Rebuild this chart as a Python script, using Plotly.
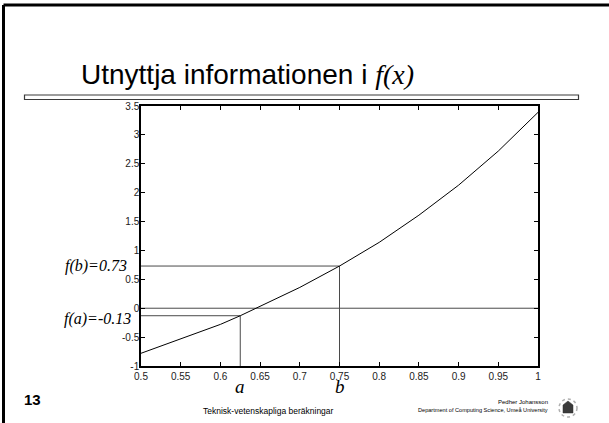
import plotly.graph_objects as go

# Sampled function values f(x) on [0.5, 1]
x_vals = [0.5, 0.55, 0.6, 0.625, 0.65, 0.7, 0.75, 0.8, 0.85, 0.9, 0.95, 1.0]
f_vals = [-0.78, -0.53, -0.28, -0.13, 0.03, 0.36, 0.73, 1.14, 1.61, 2.13, 2.72, 3.39]

# Interval end points and their function values
a_val, fa_val = 0.625, -0.13
b_val, fb_val = 0.75, 0.73

x_ticks = [0.5, 0.55, 0.6, 0.65, 0.7, 0.75, 0.8, 0.85, 0.9, 0.95, 1]
x_tick_text = ["0.5", "0.55", "0.6", "0.65", "0.7", "0.75", "0.8", "0.85", "0.9", "0.95", "1"]
y_ticks = [-1, -0.5, 0, 0.5, 1, 1.5, 2, 2.5, 3, 3.5]
y_tick_text = ["-1", "-0.5", "0", "0.5", "1", "1.5", "2", "2.5", "3", "3.5"]

W, H = 609, 423
L, R, T, B = 141, 71, 106, 57
PW, PH = W - L - R, H - T - B


def px(xp):
    return (xp - L) / PW


def py(yp):
    return (H - B - yp) / PH


SANS = "Liberation Sans, Arial, sans-serif"
SERIF = "Liberation Serif, Times New Roman, serif"
GUIDE = "#4a4a4a"

fig = go.Figure()

# guide lines: zero level, f(a), f(b) and the verticals at a and b
fig.add_trace(go.Scatter(x=[x_ticks[0], x_ticks[-1]], y=[0, 0], mode="lines",
                         line=dict(color=GUIDE, width=1), hoverinfo="skip"))
fig.add_trace(go.Scatter(x=[x_ticks[0], a_val, a_val], y=[fa_val, fa_val, y_ticks[0]], mode="lines",
                         line=dict(color=GUIDE, width=1), hoverinfo="skip"))
fig.add_trace(go.Scatter(x=[x_ticks[0], b_val, b_val], y=[fb_val, fb_val, y_ticks[0]], mode="lines",
                         line=dict(color=GUIDE, width=1), hoverinfo="skip"))
# the function itself
fig.add_trace(go.Scatter(x=x_vals, y=f_vals, mode="lines",
                         line=dict(color="black", width=1)))

axis_common = dict(showline=True, linecolor="black", linewidth=1.5, mirror="ticks",
                   ticks="inside", ticklen=4, tickcolor="black", showgrid=False,
                   zeroline=False, tickfont=dict(family=SANS, size=10, color="#222"))

fig.update_xaxes(range=[0.5, 1], tickvals=x_ticks, ticktext=x_tick_text, **axis_common)
fig.update_yaxes(range=[-1, 3.5], tickvals=y_ticks, ticktext=y_tick_text,
                 ticklabelstandoff=-2, **axis_common)

ann = []
# slide title
ann.append(dict(text="Utnyttja informationen i <i><span style='font-family:Liberation Serif'>f(x)</span></i>",
                x=px(79), y=py(74), xref="paper", yref="paper", xanchor="left", yanchor="middle",
                showarrow=False, font=dict(family=SANS, size=28, color="black")))
# labels of f(a), f(b)
ann.append(dict(text="<i>f(b)=0.73</i>", x=px(129), y=fb_val, xref="paper", yref="y",
                xanchor="right", yanchor="middle", showarrow=False,
                font=dict(family=SERIF, size=16, color="black")))
ann.append(dict(text="<i>f(a)=-0.13</i>", x=px(133), y=fa_val, xref="paper", yref="y",
                xanchor="right", yanchor="middle", showarrow=False, yshift=-3,
                font=dict(family=SERIF, size=16, color="black")))
# labels a and b under the axis
for lab, xv in (("a", a_val), ("b", b_val)):
    ann.append(dict(text="<i>%s</i>" % lab, x=xv, y=py(386), xref="x", yref="paper",
                    xanchor="center", yanchor="middle", showarrow=False,
                    font=dict(family=SERIF, size=19, color="black")))
# slide number and footer
ann.append(dict(text="<b>13</b>", x=px(22), y=py(399), xref="paper", yref="paper",
                xanchor="left", yanchor="middle", showarrow=False,
                font=dict(family=SANS, size=15, color="black")))
ann.append(dict(text="Teknisk-vetenskapliga beräkningar", x=px(268), y=py(411), xref="paper",
                yref="paper", xanchor="center", yanchor="middle", showarrow=False,
                font=dict(family=SANS, size=8.5, color="black")))
ann.append(dict(text="Pedher Johansson", x=px(550), y=py(402), xref="paper", yref="paper",
                xanchor="right", yanchor="middle", showarrow=False,
                font=dict(family=SANS, size=6, color="black")))
ann.append(dict(text="Department of Computing Science, Umeå University", x=px(550), y=py(410),
                xref="paper", yref="paper", xanchor="right", yanchor="middle", showarrow=False,
                font=dict(family=SANS, size=5.6, color="black")))

shapes = []
# slide frame (top and left edge)
shapes.append(dict(type="line", xref="paper", yref="paper", x0=px(3.5), x1=px(W), y0=py(5), y1=py(5),
                   line=dict(color="black", width=3)))
shapes.append(dict(type="line", xref="paper", yref="paper", x0=px(3.5), x1=px(3.5), y0=py(5), y1=py(H),
                   line=dict(color="black", width=3)))
# title underline bar
shapes.append(dict(type="rect", xref="paper", yref="paper", x0=px(24.5), x1=px(578.5), y0=py(95), y1=py(99.5),
                   line=dict(color="#3a3a3a", width=1.2), fillcolor="white"))
# university seal
shapes.append(dict(type="circle", xref="paper", yref="paper", x0=px(559), x1=px(577), y0=py(399), y1=py(417),
                   line=dict(color="#b0b0b0", width=1.5, dash="dot"), fillcolor="white"))
shapes.append(dict(type="path", xref="paper", yref="paper",
                   path="M %f,%f L %f,%f L %f,%f L %f,%f L %f,%f Z" % (
                       px(563), py(413), px(563), py(405), px(568), py(401),
                       px(573), py(405), px(573), py(413)),
                   line=dict(color="#333", width=0.5), fillcolor="#3a3a3a"))

fig.update_layout(width=W, height=H, margin=dict(l=L, r=R, t=T, b=B),
                  paper_bgcolor="white", plot_bgcolor="white", showlegend=False,
                  annotations=ann, shapes=shapes)

fig.write_html("out.html")
